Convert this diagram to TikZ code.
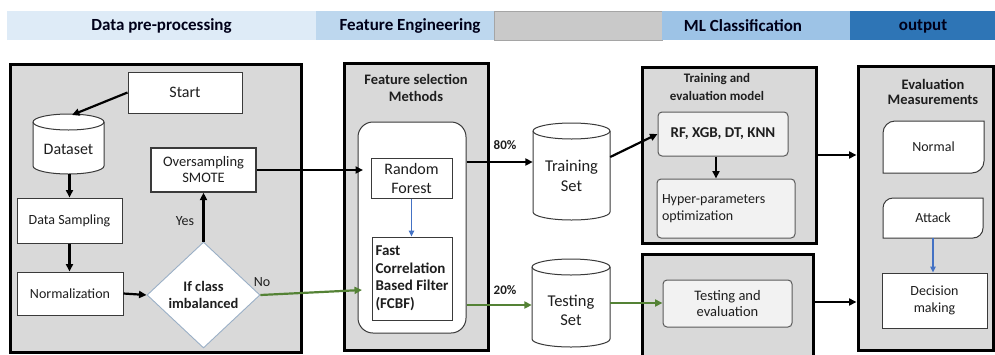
\documentclass[tikz,border=0pt]{standalone}
\usepackage{fontspec}
\setmainfont{Carlito}
\usetikzlibrary{arrows.meta,shapes.geometric}
\definecolor{hdA}{HTML}{DEEBF7}
\definecolor{hdB}{HTML}{BDD7EE}
\definecolor{hdG}{HTML}{C9C9C9}
\definecolor{hdGb}{HTML}{A5A5A5}
\definecolor{hdC}{HTML}{9DC3E6}
\definecolor{hdD}{HTML}{2E75B6}
\definecolor{panelgray}{HTML}{D9D9D9}
\definecolor{boxline}{HTML}{3A3A3A}
\definecolor{softbox}{HTML}{F2F2F2}
\definecolor{softline}{HTML}{5A5A5A}
\definecolor{grn}{HTML}{548235}
\definecolor{blu}{HTML}{4472C4}
\definecolor{diaedge}{HTML}{9AAFC6}
\definecolor{txt}{HTML}{1E1E1E}
\newcommand\fs[2]{\fontsize{#1}{#2}\selectfont}
% cylinder: cx, half width, top y, bottom y
\newcommand\mycyl[4]{%
  \filldraw[fill=white, draw=boxline, line width=1pt]
    (#1-#2,#3+8) -- (#1-#2,#4-8)
    arc[start angle=180,end angle=0,x radius=#2,y radius=8]
    -- (#1+#2,#3+8)
    arc[start angle=0,end angle=-180,x radius=#2,y radius=8] -- cycle;
  \draw[draw=boxline, line width=1pt] (#1-#2,#3+8)
    arc[start angle=180,end angle=0,x radius=#2,y radius=8];}
% box with rounded top-left and bottom-right corners: x1,y1,x2,y2,r
\newcommand\diagbox[5]{%
  \filldraw[fill=white, draw=boxline, line width=1pt]
    (#1,#4) -- (#1,#2+#5) arc[start angle=180,end angle=270,radius=#5]
    -- (#3,#2) -- (#3,#4-#5) arc[start angle=0,end angle=90,radius=#5] -- cycle;}
\begin{document}
\begin{tikzpicture}[x=1pt,y=-1pt,
  every node/.style={text=txt},
  panel/.style={draw=black, line width=3pt, fill=panelgray, inner sep=0pt},
  wbox/.style={draw=boxline, line width=1pt, fill=white, align=center, inner sep=0pt},
  sbox/.style={draw=softline, line width=1pt, fill=softbox, rounded corners=4pt, align=center, inner sep=0pt},
  hdr/.style={font=\bfseries\fs{17}{20}, text=black!90!blue},
  arr/.style={-{Triangle[length=7.5pt,width=7pt]}, line width=2.2pt, draw=black},
  garr/.style={-{Triangle[length=7.5pt,width=7pt]}, line width=2.2pt, draw=grn, fill=grn},
  barr/.style={-{Triangle[length=6pt,width=5.5pt]}, line width=1.3pt, draw=blu},
  ghost/.style={draw=none, inner sep=0pt}]
\useasboundingbox (0,0) rectangle (995,354);
\fill[white] (0,0) rectangle (995,354);

% ---------- header ----------
\fill[hdA] (7,11) rectangle (316,40);
\fill[hdB] (316,11) rectangle (494,40);
\filldraw[fill=hdG, draw=hdGb, line width=0.8pt] (494,11) rectangle (662,40);
\fill[hdC] (662,11) rectangle (850,40);
\fill[hdD] (850,11) rectangle (995,40);
\node[hdr] (h1) at (161.5,26) {Data pre-processing};
\node[hdr] (h2) at (410,26) {Feature Engineering};
\node[hdr] (h3) at (743,26) {ML Classification};
\node[hdr] (h4) at (923,26) {output};

% ---------- panels ----------
\node[panel, minimum width=291, minimum height=288] (p1) at (155.5,208) {};
\node[panel, minimum width=144, minimum height=287] (p2) at (416,206.5) {};
\node[panel, minimum width=174, minimum height=176] (p3a) at (729,155) {};
\node[panel, minimum width=171, minimum height=111] (p3b) at (727.5,309.5) {};
\node[panel, minimum width=135, minimum height=284] (p4) at (925.5,208) {};

% ---------- data pre-processing ----------
\node[wbox, minimum width=114, minimum height=41, font=\fs{16}{19}] (start) at (185,92.5) {Start};
\mycyl{68.5}{35.5}{114}{174}
\node[ghost, minimum width=71, minimum height=60] (ds) at (68.5,144) {};
\node[font=\fs{16}{19}] (dstext) at (68.5,149) {Dataset};
\node[wbox, minimum width=105, minimum height=45, font=\fs{14}{17}] (samp) at (69.5,220.5) {Data Sampling};
\node[wbox, minimum width=106, minimum height=43, font=\fs{14}{17}] (norm) at (70,293.5) {Normalization};
\node[wbox, line width=1.3pt, minimum width=105, minimum height=44, font=\fs{14.5}{16}] (over) at (203.5,170) {Oversampling\\SMOTE};
\node[diamond, draw=diaedge, line width=0.9pt, fill=white, inner sep=0pt, aspect=1.07,
      minimum width=113, minimum height=106, align=center, font=\bfseries\fs{14.5}{16.5}] (dia) at (203.5,295) {If class\\imbalanced};
\node[font=\fs{14}{17}] (yes) at (185,221) {Yes};
\node[font=\fs{14}{17}] (no) at (262,282) {No};

\draw[arr] (start.west) -- (72,115);
\draw[arr] (ds.south -| samp.north) -- (samp.north);
\draw[arr] (samp.south) -- (samp.south |- norm.north);
\draw[arr] (norm.east) -- (dia.west);
\draw[arr] (dia.north) -- (dia.north |- over.south);

% ---------- feature selection ----------
\node[align=center, font=\bfseries\fs{14.5}{17.5}] (fstitle) at (416,88) {Feature selection\\Methods};
\node[draw=boxline, line width=1pt, fill=white, rounded corners=15pt, inner sep=0pt,
      minimum width=108, minimum height=211] (fsbox) at (412,227.5) {};
\node[wbox, minimum width=81, minimum height=40, font=\fs{16}{19}] (rf) at (411.5,178) {Random\\Forest};
\node[wbox, minimum width=80, minimum height=83, align=left,
      font=\bfseries\fs{15}{17.5}] (fcbf) at (412,278.5) {Fast\\Correlation\\Based Filter\\(FCBF)};
\draw[barr] (rf.south) -- (rf.south |- fcbf.north);
\coordinate (rfin) at (363,170);
\coordinate (gin) at (362,290);
\draw[arr] (over.east) -- (rfin);
\draw[garr] (dia.east) -- (gin);

% ---------- train / test sets ----------
\mycyl{571.5}{38.5}{123}{220}
\node[ghost, minimum width=77, minimum height=97] (train) at (571.5,171.5) {};
\node[align=center, font=\fs{16.5}{20}] (traintext) at (571.5,176) {Training\\Set};
\mycyl{571}{39}{259}{347}
\node[ghost, minimum width=78, minimum height=88] (test) at (571,303) {};
\node[align=center, font=\fs{16.5}{19}] (testtext) at (571,310) {Testing\\Set};
\node[font=\bfseries\fs{13}{15}] (l80) at (505,145) {80\%};
\node[font=\bfseries\fs{13}{15}] (l20) at (505,290) {20\%};
\draw[arr] (fsbox.east |- 0,162) -- (train.west |- 0,162);
\draw[garr] (fsbox.east |- 0,305) -- (test.west |- 0,305);

% ---------- ML classification ----------
\node[align=center, font=\bfseries\fs{13}{17.3}] (mltitle) at (717,87) {Training and\\evaluation model};
\node[sbox, minimum width=130, minimum height=44, font=\bfseries\fs{15}{18}] (rfx) at (723,134) {RF, XGB, DT, KNN};
\node[sbox, minimum width=138, minimum height=59, align=left, text width=128,
      font=\fs{14}{16.7}] (hyp) at (726,208.5) {Hyper-parameters\\optimization};
\node[sbox, minimum width=129, minimum height=47, font=\fs{14.5}{16.7}] (teval) at (727.5,303.5) {Testing and\\evaluation};
\draw[arr] (train.east |- 0,157) -- (rfx.west);
\draw[arr] ([xshift=-7pt]rfx.south) -- ([xshift=-7pt]rfx.south |- hyp.north);
\draw[garr] (test.east |- 0,303) -- (teval.west |- 0,303);

% ---------- evaluation ----------
\node[align=center, font=\bfseries\fs{14.5}{15.7}] (evtitle) at (933,92) {Evaluation\\Measurements};
\diagbox{883}{121}{984}{173}{12}
\node[ghost, minimum width=101, minimum height=52, font=\fs{14}{17}] (normal) at (933.5,147) {Normal};
\diagbox{883}{198}{983}{238}{10}
\node[ghost, minimum width=100, minimum height=40, font=\fs{14}{17}] (attack) at (933,218) {Attack};
\node[wbox, minimum width=105, minimum height=55, font=\fs{14}{17.7}] (dec) at (934.5,300.5) {Decision\\making};
\draw[barr] (attack.south) -- (attack.south |- dec.north);

\draw[arr] (p3a.east) -- (p4.west |- p3a.east);
\draw[arr] (p3b.east |- 0,302) -- (p4.west |- 0,302);
\end{tikzpicture}
\end{document}
